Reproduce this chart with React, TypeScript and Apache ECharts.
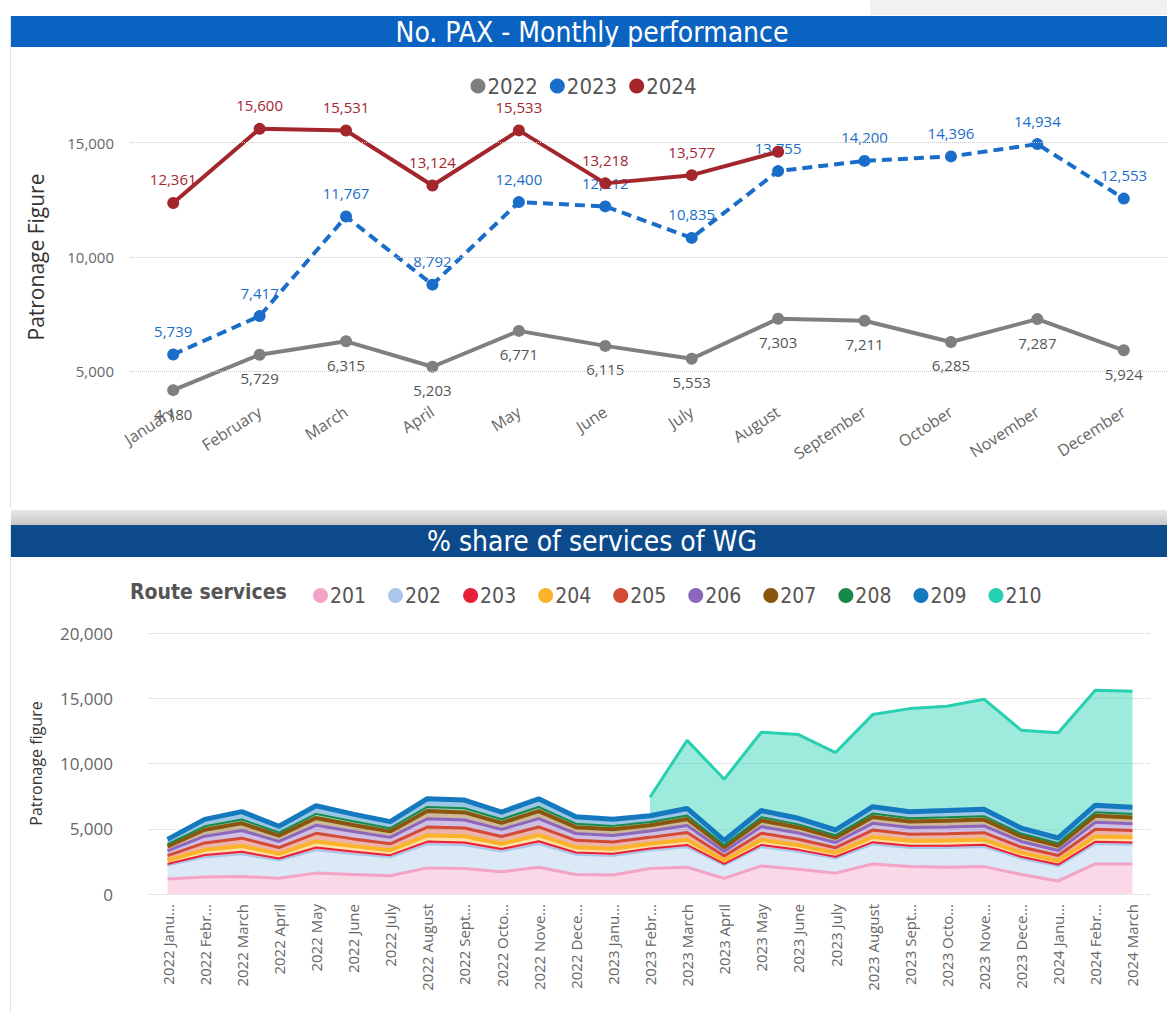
import React, { useEffect, useRef } from "react";
import * as echarts from "echarts";

const months = ["January", "February", "March", "April", "May", "June", "July", "August", "September", "October", "November", "December"];
const pax2022 = [4180, 5729, 6315, 5203, 6771, 6115, 5553, 7303, 7211, 6285, 7287, 5924];
const pax2023 = [5739, 7417, 11767, 8792, 12400, 12212, 10835, 13755, 14200, 14396, 14934, 12553];
const pax2024 = [12361, 15600, 15531, 13124, 15533, 13218, 13577, 14600];
const topTicks = [5000, 10000, 15000];

const periodLabels = [
  "2022 Janu…", "2022 Febr…", "2022 March", "2022 April", "2022 May", "2022 June", "2022 July", "2022 August", "2022 Sept…", "2022 Octo…", "2022 Nove…", "2022 Dece…",
  "2023 Janu…", "2023 Febr…", "2023 March", "2023 April", "2023 May", "2023 June", "2023 July", "2023 August", "2023 Sept…", "2023 Octo…", "2023 Nove…", "2023 Dece…",
  "2024 Janu…", "2024 Febr…", "2024 March",
];
const routeNames = ["201", "202", "203", "204", "205", "206", "207", "208", "209", "210"];
const r201 = [1150, 1300, 1350, 1200, 1600, 1500, 1400, 2000, 1950, 1700, 2050, 1500, 1450, 1950, 2050, 1200, 2150, 1900, 1600, 2300, 2100, 2050, 2100, 1500, 1000, 2300, 2300];
const r202 = [1030, 1506, 1688, 1361, 1758, 1569, 1412, 1803, 1789, 1559, 1781, 1504, 1458, 1377, 1530, 986, 1445, 1326, 1122, 1496, 1428, 1479, 1496, 1207, 1122, 1530, 1479];
const r203 = [121, 177, 199, 160, 207, 185, 166, 212, 210, 183, 209, 177, 172, 162, 180, 116, 170, 156, 132, 176, 168, 174, 176, 142, 132, 180, 174];
const r204 = [273, 399, 447, 360, 465, 415, 374, 477, 473, 413, 471, 398, 386, 365, 405, 261, 383, 351, 297, 396, 378, 392, 396, 320, 297, 405, 392];
const r205 = [364, 531, 596, 480, 621, 554, 498, 636, 631, 550, 628, 531, 515, 486, 540, 348, 510, 468, 396, 528, 504, 522, 528, 426, 396, 540, 522];
const r206 = [370, 520, 590, 470, 610, 560, 490, 640, 620, 545, 635, 525, 510, 480, 545, 350, 505, 470, 400, 520, 510, 515, 520, 430, 390, 545, 525];
const r207 = [333, 487, 546, 440, 569, 508, 457, 583, 579, 504, 576, 487, 472, 446, 495, 319, 468, 429, 363, 484, 462, 479, 484, 391, 363, 495, 479];
const r208 = [182, 266, 298, 240, 310, 277, 249, 318, 316, 275, 314, 265, 257, 243, 270, 174, 255, 234, 198, 264, 252, 261, 264, 213, 198, 270, 261];
const r209 = [364, 532, 595, 482, 620, 553, 499, 638, 632, 551, 630, 531, 514, 485, 540, 348, 509, 468, 396, 528, 504, 521, 528, 425, 396, 540, 521];
const r210: (number | null)[] = [null, null, null, null, null, null, null, null, null, null, null, null, null, 1417, 5217, 4692, 6000, 6412, 5935, 7055, 7900, 7996, 8434, 7503, 8061, 8800, 8881];
const routeData = [r201, r202, r203, r204, r205, r206, r207, r208, r209, r210];

const yearColors = ["#7f7f7f", "#1a6dc8", "#a3262d"];
const routeColors = ["#f2a3c6", "#a9c7ea", "#e8203a", "#fbb42a", "#d34a35", "#8d67bd", "#8a560e", "#17894a", "#1479bf", "#27d0b1"];
const routeLineWidths = [3, 2, 2, 4, 3, 3, 4, 2, 5, 3];

const narrow = "'DejaVu Sans Condensed', 'DejaVu Sans', sans-serif";
const body = "'Open Sans', 'Noto Sans', sans-serif";
const fmt = (v: number) => v.toLocaleString("en-US");

export default function App() {
  const ref = useRef<HTMLDivElement>(null);
  useEffect(() => {
    document.body.style.margin = "0";
    if (!ref.current) return;
    const chart = echarts.init(ref.current, null, { renderer: "svg" });

    const topSeries: any[] = [pax2022, pax2023, pax2024].map((d, i) => ({
      name: String(2022 + i),
      type: "line",
      xAxisIndex: 0,
      yAxisIndex: 0,
      data: d.map((v, j) => (i === 2 && j === 7 ? { value: v, label: { show: false } } : v)),
      symbol: "circle",
      symbolSize: 12,
      itemStyle: { color: yearColors[i] },
      lineStyle: { width: 4, color: yearColors[i], type: i === 1 ? [10, 6] : "solid" },
      label: {
        show: true,
        position: i === 0 ? "bottom" : "top",
        distance: 10,
        color: i === 0 ? "#555" : yearColors[i],
        fontSize: 15,
        fontFamily: body,
        formatter: (p: any) => fmt(p.value),
      },
      z: 2 + i,
      markLine:
        i === 0
          ? {
              silent: true,
              symbol: "none",
              label: { show: false },
              lineStyle: { type: "dotted", color: "#c8c8c8", width: 1 },
              data: topTicks.map((t) => ({ yAxis: t })),
            }
          : undefined,
    }));

    const bottomSeries: any[] = routeNames.map((n, i) => ({
      name: n,
      type: "line",
      xAxisIndex: 1,
      yAxisIndex: 1,
      stack: "routes",
      data: routeData[i].map((v) => (v === null ? "-" : v)),
      showSymbol: false,
      symbol: "none",
      lineStyle: { width: routeLineWidths[i], color: routeColors[i] },
      itemStyle: { color: routeColors[i] },
      areaStyle: { color: routeColors[i], opacity: i === 9 ? 0.45 : 0.42 },
      z: 2,
    }));

    chart.setOption({
      animation: false,
      backgroundColor: "#ffffff",
      graphic: [
        { type: "rect", shape: { x: 870, y: 0, width: 297, height: 15 }, style: { fill: "#f1f1f1" } },
        { type: "line", shape: { x1: 10.5, y1: 16, x2: 10.5, y2: 508 }, style: { stroke: "#e2e2e2", lineWidth: 1 } },
        { type: "rect", shape: { x: 11, y: 16, width: 1156, height: 31 }, style: { fill: "#0b63c1" } },
        { type: "text", x: 592, y: 32, style: { text: "No. PAX - Monthly performance", fill: "#ffffff", font: `28px ${narrow}`, textAlign: "center", textVerticalAlign: "middle" } },
        { type: "rect", shape: { x: 11, y: 510, width: 1156, height: 15 }, style: { fill: new echarts.graphic.LinearGradient(0, 0, 0, 1, [{ offset: 0, color: "#e8e8e8" }, { offset: 1, color: "#c6c6c6" }]) } },
        { type: "line", shape: { x1: 10.5, y1: 525, x2: 10.5, y2: 1012 }, style: { stroke: "#e2e2e2", lineWidth: 1 } },
        { type: "rect", shape: { x: 11, y: 525, width: 1156, height: 32 }, style: { fill: "#0d4a8c" } },
        { type: "text", x: 592, y: 541, style: { text: "% share of services of WG", fill: "#ffffff", font: `28px ${narrow}`, textAlign: "center", textVerticalAlign: "middle" } },
        { type: "text", x: 130, y: 592, style: { text: "Route services", fill: "#555555", font: `bold 21px ${narrow}`, textVerticalAlign: "middle" } },
      ],
      legend: [
        {
          data: ["2022", "2023", "2024"],
          top: 70,
          left: "center",
          icon: "circle",
          itemWidth: 15,
          itemHeight: 15,
          itemGap: 12,
          textStyle: { fontSize: 22, color: "#555", fontFamily: narrow, padding: [0, 0, 0, -3] },
        },
        {
          data: routeNames,
          top: 580,
          left: 308,
          icon: "circle",
          itemWidth: 15,
          itemHeight: 15,
          itemGap: 22,
          textStyle: { fontSize: 21, color: "#555", fontFamily: narrow, padding: [0, 0, 0, -3] },
        },
      ],
      grid: [
        { left: 130, top: 114, width: 1042, height: 286 },
        { left: 149, top: 633, width: 1002, height: 261 },
      ],
      xAxis: [
        {
          type: "category",
          gridIndex: 0,
          data: months,
          boundaryGap: true,
          axisLine: { show: false },
          axisTick: { show: false },
          axisLabel: { rotate: 33, color: "#666", fontSize: 16, fontFamily: body, margin: 10, interval: 0 },
        },
        {
          type: "category",
          gridIndex: 1,
          data: periodLabels,
          boundaryGap: true,
          axisLine: { show: false },
          axisTick: { show: false },
          axisLabel: { rotate: 90, color: "#666", fontSize: 15, fontFamily: body, margin: 10, interval: 0 },
        },
      ],
      yAxis: [
        {
          type: "value",
          gridIndex: 0,
          min: 3750,
          max: 16250,
          interval: 1250,
          splitLine: { show: false },
          axisLine: { show: false },
          axisTick: { show: false },
          axisLabel: { color: "#666", fontSize: 15, fontFamily: body, margin: 16, formatter: (v: number) => (v % 5000 === 0 ? fmt(v) : "") },
          name: "Patronage Figure",
          nameLocation: "middle",
          nameGap: 84,
          nameTextStyle: { fontSize: 21, color: "#333", fontFamily: body },
        },
        {
          type: "value",
          gridIndex: 1,
          min: 0,
          max: 20000,
          interval: 5000,
          splitLine: { show: true, lineStyle: { type: "dotted", color: "#cfcfcf" } },
          axisLine: { show: false },
          axisTick: { show: false },
          axisLabel: { color: "#666", fontSize: 17, fontFamily: body, margin: 36, formatter: (v: number) => fmt(v) },
          name: "Patronage figure",
          nameLocation: "middle",
          nameGap: 105,
          nameTextStyle: { fontSize: 16, color: "#333", fontFamily: body },
        },
      ],
      series: [...topSeries, ...bottomSeries],
    });
    return () => chart.dispose();
  }, []);
  return <div ref={ref} style={{ width: 1167, height: 1012 }} />;
}
